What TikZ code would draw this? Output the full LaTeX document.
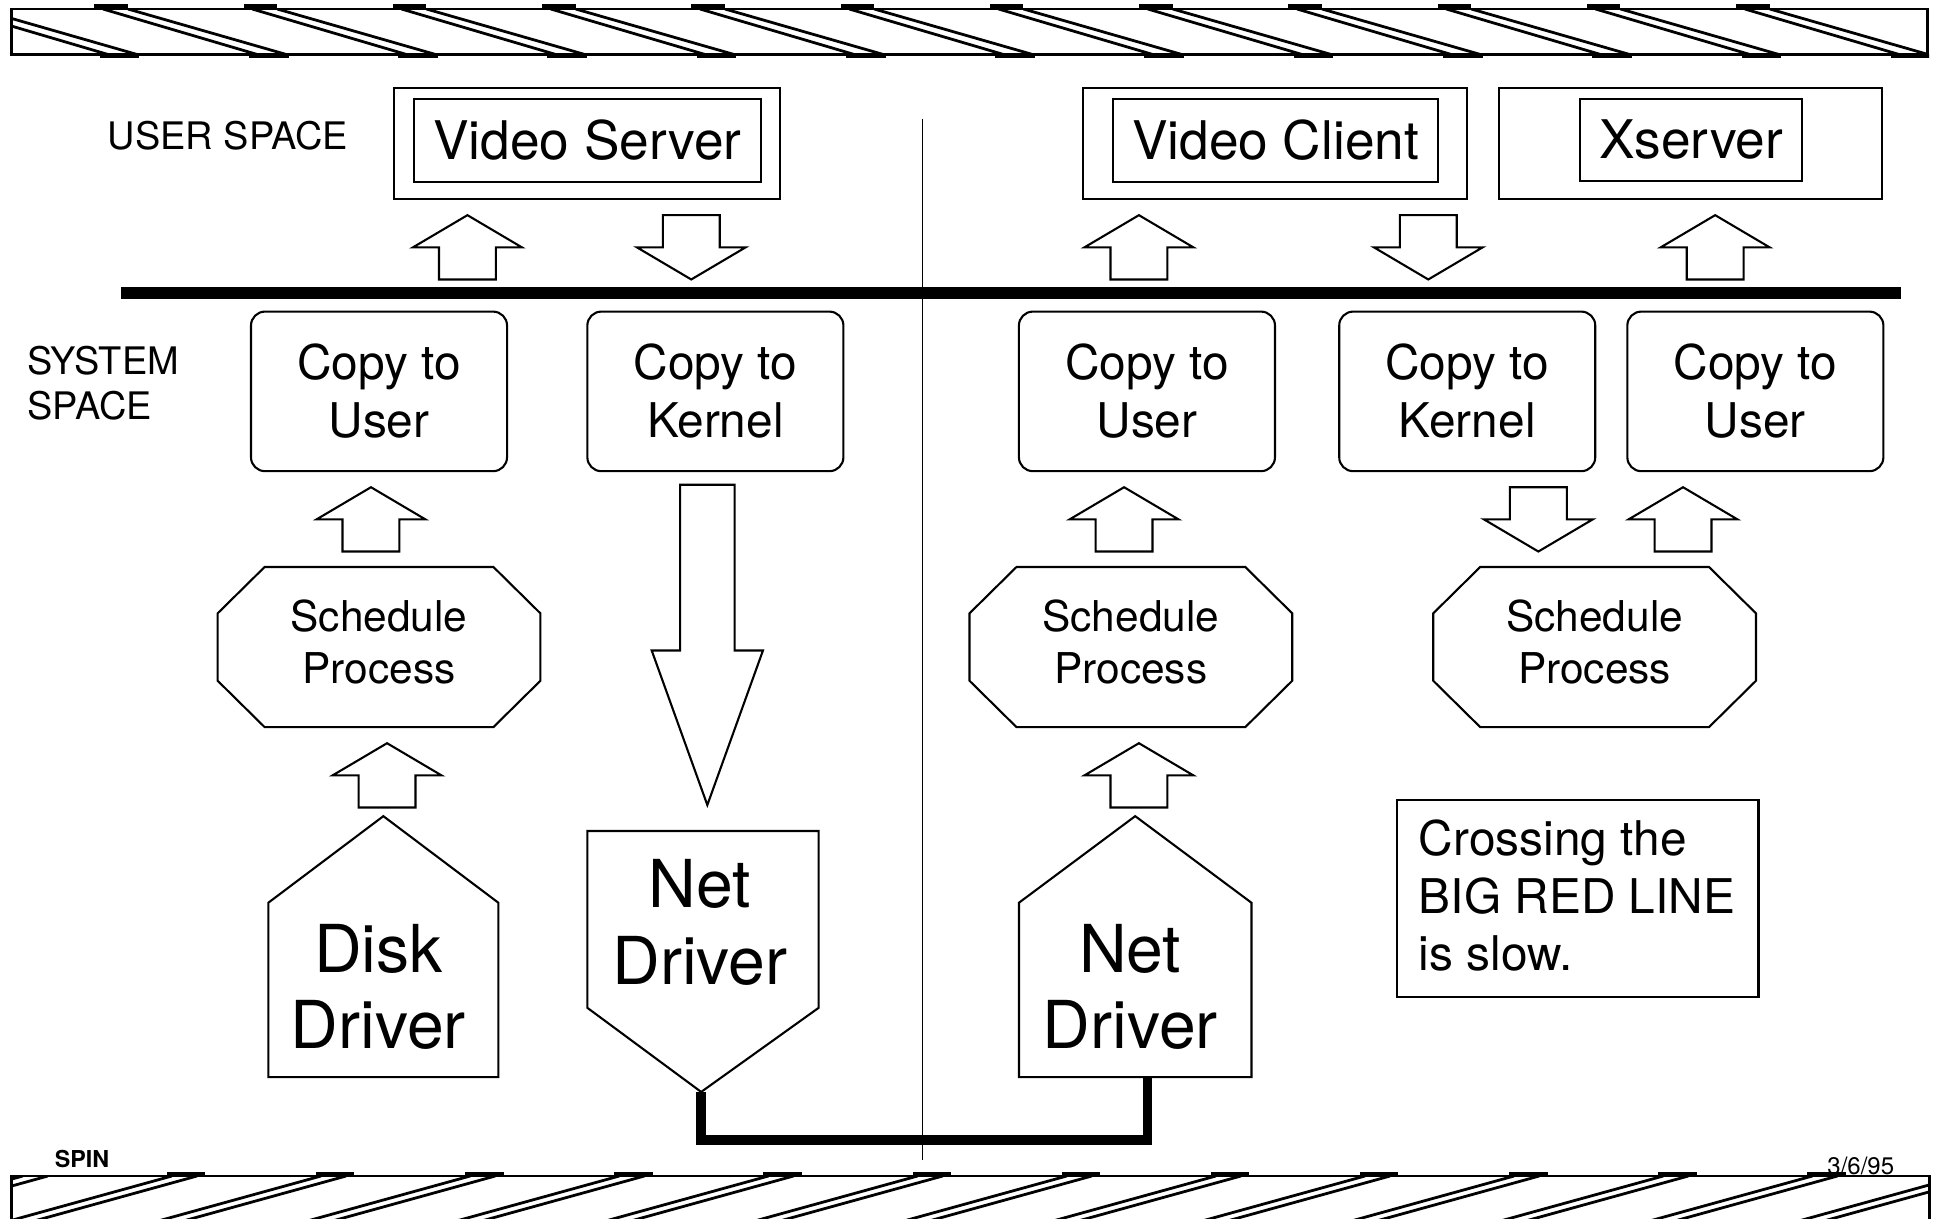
\documentclass[tikz,border=0pt]{standalone}
\usepackage{fontspec}
\setmainfont{TeX Gyre Heros}
\usetikzlibrary{calc}

\begin{document}
\begin{tikzpicture}[x=0.025cm, y=-0.025cm, line join=miter,
  edge/.style={draw=black, line width=1.2pt},
  band/.style={draw=black, line width=1.6pt},
  link/.style={draw=black, line width=5.5pt},
  kernelline/.style={draw=black, line width=6.5pt},
  divider/.style={draw=black, line width=1pt},
  lbl/.style={inner sep=0pt, font=\fontsize{21.8}{25.6}\selectfont},
  appbox/.style={edge, inner sep=0pt, minimum height=2.25cm},
  appname/.style={edge, inner sep=0pt, minimum height=1.675cm, font=\fontsize{30.6}{36}\selectfont},
  copybox/.style={edge, rounded corners=8pt, inner sep=0pt, align=center,
    minimum width=5.175cm, minimum height=3.225cm, font=\fontsize{27.5}{33.4}\selectfont},
  sched/.style={inner sep=0pt, align=center, font=\fontsize{24.4}{29.9}\selectfont},
  drv/.style={inner sep=0pt, align=center, font=\fontsize{38}{44.1}\selectfont},
  blockup/.pic={\draw[edge] (0,0) -- (44,26) -- (23,26) -- (23,52) -- (-23,52) -- (-23,26) -- (-44,26) -- cycle;},
  blockdown/.pic={\draw[edge] (-23,0) -- (23,0) -- (23,26) -- (44,26) -- (0,52) -- (-44,26) -- (-23,26) -- cycle;}
]
\useasboundingbox (0,0) rectangle (1568,985);
\fill[white] (0,0) rectangle (1568,985);

% ---- striped band across the top
\begin{scope}
  \clip (9.5,7.3) rectangle (1559,44);
  \foreach \k in {-1,...,11} {
    \pgfmathsetmacro\a{83.3+120.7*\k}
    \draw[band] (\a,7.3) -- ++(124.5,36.7);
    \draw[band] (\a+20.2,7.3) -- ++(127.8,36.7);
  }
\end{scope}
\foreach \k in {0,...,11} {
  \pgfmathsetmacro\a{83.3+120.7*\k}
  \fill (\a-7,3.6) rectangle (\a+20,7.3);
}
\begin{scope}
  \clip (0,0) rectangle (1560,60);
  \foreach \k in {-1,...,11} {
    \pgfmathsetmacro\a{83.3+120.7*\k}
    \fill (\a+118,44) rectangle (\a+150,47);
  }
\end{scope}
\draw[band] (9.5,7.3) rectangle (1559,44);

% ---- striped band across the bottom
\begin{scope}
  \clip (9.5,951) rectangle (1560,995);
  \foreach \k in {-1,...,12} {
    \pgfmathsetmacro\t{139+120.6*\k}
    \draw[band] (\t,951) -- ++(-181,50);
    \draw[band] (\t+20.3,951) -- ++(-181,50);
  }
\end{scope}
\foreach \k in {0,...,11} {
  \pgfmathsetmacro\t{139+120.6*\k}
  \fill (\t-4,947.6) rectangle (\t+27,951);
}
\draw[band] (9.5,995) -- (9.5,951) -- (1560,951) -- (1560,995);

\node[anchor=base west, inner sep=0pt, font=\bfseries\fontsize{13.4}{16}\selectfont] (spin) at (44,944.5) {SPIN};
\node[anchor=base east, inner sep=0pt, font=\fontsize{13.8}{16}\selectfont] (date) at (1532,950) {3/6/95};

% ---- user / system boundary
\coordinate (divtop) at (746,96);
\coordinate (divbot) at (746,938);
\draw[divider] (divtop) -- (divbot);
\coordinate (kl) at (98,237);
\coordinate (kr) at (1537,237);
\draw[kernelline] (kl) -- (kr);

\node[lbl, anchor=west] (userspace) at (87,110) {USER SPACE};
\node[lbl, anchor=west, align=left] (sysspace) at (22,310) {SYSTEM\\SPACE};

% ---- applications
\node[appbox, minimum width=7.8cm] (vsout) at (475,116) {};
\node[appname, minimum width=7cm] (vs) at (475,113.5) {Video Server};
\node[appbox, minimum width=7.75cm] (vcout) at (1031,116) {};
\node[appname, minimum width=6.575cm] (vc) at (1031.5,113.5) {Video Client};
\node[appbox, minimum width=7.75cm] (xsout) at (1367,116) {};
\node[appname, minimum width=4.475cm, minimum height=1.65cm] (xs) at (1367.5,113) {Xserver};

\pic at (378,174) {blockup};
\pic at (559,174) {blockdown};
\pic at (921,174) {blockup};
\pic at (1155,174) {blockdown};
\pic at (1387,174) {blockup};

% ---- copy stages
\node[copybox] (cu1) at (306.5,316.5) {Copy to\\User};
\node[copybox] (ck1) at (578.5,316.5) {Copy to\\Kernel};
\node[copybox] (cu2) at (927.5,316.5) {Copy to\\User};
\node[copybox] (ck2) at (1186.5,316.5) {Copy to\\Kernel};
\node[copybox] (cu3) at (1419.5,316.5) {Copy to\\User};

\pic at (300,394) {blockup};
\pic at (909,394) {blockup};
\pic at (1244,394) {blockdown};
\pic at (1361,394) {blockup};

% ---- scheduler stages (octagon drawn around the text centre)
\node[sched] (sp1) at (306.5,519) {Schedule\\Process};
\node[sched] (sp2) at (914.5,519) {Schedule\\Process};
\node[sched] (sp3) at (1289.5,519) {Schedule\\Process};
\foreach \n in {sp1,sp2,sp3} {
  \draw[edge] ($(\n)+(-92.5,-60.5)$) -- ($(\n)+(92.5,-60.5)$)
    -- ($(\n)+(130.5,-23)$) -- ($(\n)+(130.5,31.5)$)
    -- ($(\n)+(92.5,69)$) -- ($(\n)+(-92.5,69)$)
    -- ($(\n)+(-130.5,31.5)$) -- ($(\n)+(-130.5,-23)$) -- cycle;
}

\pic at (313,601) {blockup};
\pic at (921,601) {blockup};

% ---- long transfer from the kernel copy down to the network
\draw[edge] (550,392) -- (594,392) -- (594,526) -- (617,526) -- (572,651)
  -- (527,526) -- (550,526) -- cycle;

% ---- drivers
\node[drv] (disk) at (306,798) {Disk\\Driver};
\draw[edge] ($(disk)+(-89,73)$) -- ($(disk)+(-89,-68)$) -- ($(disk)+(4,-138)$)
  -- ($(disk)+(97,-68)$) -- ($(disk)+(97,73)$) -- cycle;

\node[drv] (ndr) at (914,798) {Net\\Driver};
\draw[edge] ($(ndr)+(-90,73)$) -- ($(ndr)+(-90,-68)$) -- ($(ndr)+(4,-138)$)
  -- ($(ndr)+(98,-68)$) -- ($(ndr)+(98,73)$) -- cycle;

\node[drv] (ndl) at (566,746) {Net\\Driver};
\draw[edge] ($(ndl)+(-91,-74)$) -- ($(ndl)+(96,-74)$) -- ($(ndl)+(96,69)$)
  -- ($(ndl)+(1,137)$) -- ($(ndl)+(-91,69)$) -- cycle;

% ---- wire between the two network drivers
\coordinate (ndltip) at ($(ndl)+(1,137)$);
\coordinate (ndrfoot) at ($(ndr)+(14,73)$);
\draw[link] (ndltip) |- ($(ndrfoot)+(0,51)$) -- (ndrfoot);

% ---- note
\node[edge, inner sep=0pt, minimum width=7.3cm, minimum height=3.975cm] (slow) at (1276,726.5) {};
\node[anchor=west, align=left, inner sep=0pt, font=\fontsize{27.5}{33.1}\selectfont] (slowtxt)
  at ([xshift=0.45cm, yshift=0.05cm]slow.west) {Crossing the\\BIG RED LINE\\is slow.};
\end{tikzpicture}
\end{document}
